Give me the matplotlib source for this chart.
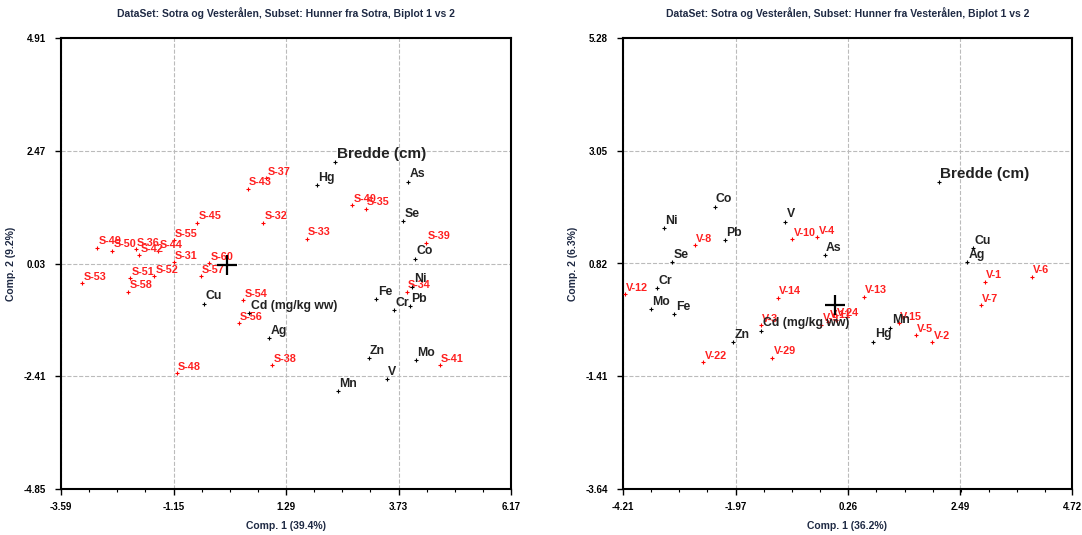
import matplotlib
matplotlib.use('Agg')
import matplotlib.pyplot as plt
from matplotlib.ticker import AutoMinorLocator

plt.rcParams['font.family'] = ['Liberation Sans', 'DejaVu Sans']

# ---- left biplot: Hunner fra Sotra ----
sotra_samples = ['S-49', 'S-50', 'S-36', 'S-42', 'S-44', 'S-55', 'S-31', 'S-45', 'S-43', 'S-37',
                 'S-32', 'S-60', 'S-57', 'S-53', 'S-51', 'S-58', 'S-52', 'S-54', 'S-56', 'S-48',
                 'S-38', 'S-40', 'S-35', 'S-33', 'S-39', 'S-34', 'S-41']
sotra_sx = [-2.80, -2.48, -1.97, -1.90, -1.48, -1.15, -1.15, -0.63, 0.46, 0.86,
            0.79, -0.38, -0.56, -3.13, -2.09, -2.13, -1.57, 0.36, 0.26, -1.08,
            0.99, 2.73, 3.02, 1.74, 4.33, 3.91, 4.62]
sotra_sy = [0.37, 0.31, 0.34, 0.21, 0.29, 0.54, 0.06, 0.91, 1.65, 1.88,
            0.91, 0.04, -0.24, -0.40, -0.29, -0.58, -0.25, -0.76, -1.26, -2.35,
            -2.17, 1.29, 1.22, 0.57, 0.48, -0.58, -2.17]
sotra_vars = ['Hg', 'As', 'Se', 'Co', 'Ni', 'Fe', 'Cr', 'Pb', 'Zn', 'Mo',
              'V', 'Mn', 'Cu', 'Cd (mg/kg ww)', 'Ag']
sotra_vx = [1.96, 3.94, 3.83, 4.08, 4.03, 3.25, 3.63, 3.97, 3.08, 4.10,
            3.47, 2.42, -0.49, 0.49, 0.92]
sotra_vy = [1.72, 1.80, 0.94, 0.13, -0.47, -0.74, -0.98, -0.89, -2.02, -2.06,
            -2.48, -2.73, -0.84, -1.05, -1.59]
sotra_bredde = (2.36, 2.22)
sotra_xticks = [-3.59, -1.15, 1.29, 3.73, 6.17]
sotra_yticks = [-4.85, -2.41, 0.03, 2.47, 4.91]
sotra_title = 'DataSet: Sotra og Vesterålen, Subset: Hunner fra Sotra, Biplot 1 vs 2'
sotra_xlabel = 'Comp. 1 (39.4%)'
sotra_ylabel = 'Comp. 2 (9.2%)'

# ---- right biplot: Hunner fra Vesterålen ----
vest_samples = ['V-8', 'V-10', 'V-4', 'V-12', 'V-14', 'V-3', 'V-22', 'V-29', 'V-9', 'V-11',
                'V-24', 'V-13', 'V-15', 'V-5', 'V-2', 'V-1', 'V-6', 'V-7']
vest_sx = [-2.78, -0.84, -0.35, -4.17, -1.13, -1.47, -2.61, -1.24, -0.27, -0.13,
           0.02, 0.58, 1.27, 1.61, 1.94, 2.99, 3.92, 2.91]
vest_sy = [1.18, 1.30, 1.34, 0.21, 0.14, -0.40, -1.13, -1.04, -0.39, -0.33,
           -0.29, 0.16, -0.36, -0.60, -0.74, 0.46, 0.56, -0.01]
vest_vars = ['Co', 'Ni', 'V', 'Pb', 'As', 'Se', 'Cr', 'Mo', 'Fe', 'Zn',
             'Cd (mg/kg ww)', 'Cu', 'Ag', 'Mn', 'Hg']
vest_vx = [-2.39, -3.40, -0.98, -2.19, -0.20, -3.24, -3.54, -3.65, -3.19, -2.02,
           -1.46, 2.75, 2.63, 1.11, 0.77]
vest_vy = [1.94, 1.52, 1.65, 1.28, 0.99, 0.85, 0.33, -0.08, -0.18, -0.74,
           -0.51, 1.12, 0.85, -0.45, -0.73]
vest_bredde = (2.07, 2.43)
vest_xticks = [-4.21, -1.97, 0.26, 2.49, 4.72]
vest_yticks = [-3.64, -1.41, 0.82, 3.05, 5.28]
vest_title = 'DataSet: Sotra og Vesterålen, Subset: Hunner fra Vesterålen, Biplot 1 vs 2'
vest_xlabel = 'Comp. 1 (36.2%)'
vest_ylabel = 'Comp. 2 (6.3%)'

label_col = '#1f2a44'


def biplot(ax, samples, sx, sy, vars_, vx, vy, bredde, xticks, yticks, title, xlabel, ylabel):
    ax.set_xlim(xticks[0], xticks[-1])
    ax.set_ylim(yticks[0], yticks[-1])
    ax.set_xticks(xticks)
    ax.set_yticks(yticks)
    ax.set_xticklabels(['%.2f' % v for v in xticks], fontsize=7, fontweight='bold')
    ax.set_yticklabels(['%.2f' % v for v in yticks], fontsize=7, fontweight='bold')
    ax.xaxis.set_minor_locator(AutoMinorLocator(4))
    ax.tick_params(which='major', direction='out', length=4, width=1)
    ax.tick_params(axis='x', which='major', pad=5)
    ax.tick_params(axis='y', which='major', pad=7)
    ax.tick_params(which='minor', direction='out', length=2, width=0.8)
    ax.tick_params(axis='y', which='minor', left=False)
    ax.grid(True, which='major', linestyle='--', color='#bbbbbb', linewidth=0.8)
    for sp in ax.spines.values():
        sp.set_linewidth(1.5)
        sp.set_color('black')

    ax.scatter(sx, sy, marker='+', s=8, color='red', linewidths=0.8, zorder=3)
    for name, x, y in zip(samples, sx, sy):
        ax.annotate(name, (x, y), xytext=(1, 1), textcoords='offset points',
                    ha='left', va='bottom', color='#ff2020', fontsize=7.8, fontweight='bold')

    ax.scatter(vx, vy, marker='+', s=8, color='black', linewidths=0.8, zorder=3)
    for name, x, y in zip(vars_, vx, vy):
        ax.annotate(name, (x, y), xytext=(1, 1), textcoords='offset points',
                    ha='left', va='bottom', color='#222222', fontsize=8.8, fontweight='bold')

    ax.scatter([bredde[0]], [bredde[1]], marker='+', s=8, color='black', linewidths=0.8, zorder=3)
    ax.annotate('Bredde (cm)', bredde, xytext=(1, 1), textcoords='offset points',
                ha='left', va='bottom', color='#222222', fontsize=11, fontweight='bold')

    # centroid
    ax.plot([0], [0], marker='+', markersize=14, markeredgewidth=1.6, color='black', zorder=4)

    ax.set_title(title, fontsize=7.5, fontweight='bold', color=label_col, pad=15)
    ax.set_xlabel(xlabel, fontsize=7.5, fontweight='bold', color=label_col, labelpad=7)
    ax.set_ylabel(ylabel, fontsize=7.5, fontweight='bold', color=label_col, labelpad=5)


fig = plt.figure(figsize=(10.82, 5.35), dpi=100)
ax1 = fig.add_axes([61 / 1082, 46 / 535, 450 / 1082, 451 / 535])
ax2 = fig.add_axes([623 / 1082, 46 / 535, 449 / 1082, 451 / 535])

biplot(ax1, sotra_samples, sotra_sx, sotra_sy, sotra_vars, sotra_vx, sotra_vy, sotra_bredde,
       sotra_xticks, sotra_yticks, sotra_title, sotra_xlabel, sotra_ylabel)
biplot(ax2, vest_samples, vest_sx, vest_sy, vest_vars, vest_vx, vest_vy, vest_bredde,
       vest_xticks, vest_yticks, vest_title, vest_xlabel, vest_ylabel)

fig.savefig('out.png', dpi=100)
